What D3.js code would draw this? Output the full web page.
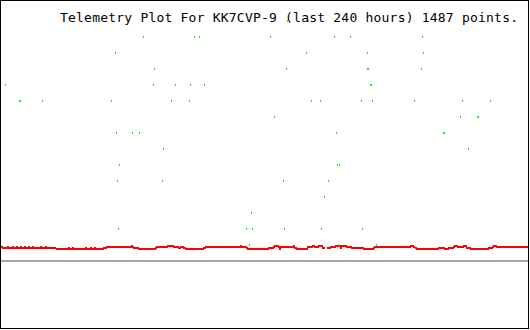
<!doctype html>
<html>

<head>
	<title> Telemetry Plot </title>
	<meta charset="UTF-8">
	<script src="https://d3js.org/d3.v7.min.js"></script>
	<style>
		body { margin: 0; background: #ffffff; }
		svg { display: block; }
	</style>
</head>

<body>
	<script>

		// Title text
		var callsign = "KK7CVP-9";
		var hoursShown = 240;
		var pointCount = 1487;

		// Green readings, [hours from start of window, value]
		var greenPoints = [
			[73.2, 240], [130.5, 240], [140.0, 240], [155.9, 240],
			[65.0, 224], [88.2, 224], [90.5, 224], [122.7, 224], [151.8, 224], [159.1, 224], [191.8, 224],
			[52.3, 208], [139.1, 208], [166.8, 208], [192.3, 208],
			[70.0, 192], [130.0, 192], [166.8, 192], [167.3, 192], [191.4, 192],
			[2.3, 176], [69.5, 176], [79.5, 176], [86.4, 176], [92.7, 176], [168.2, 176], [168.6, 176],
			[8.6, 160], [9.1, 160], [19.1, 160], [50.5, 160], [77.7, 160], [85.9, 160], [141.4, 160],
			[145.5, 160], [164.1, 160], [169.1, 160], [188.2, 160], [210.0, 160], [222.7, 160],
			[124.5, 144], [209.1, 144], [216.8, 144], [217.3, 144],
			[52.7, 128], [60.0, 128], [63.2, 128], [152.7, 128], [201.4, 128], [201.8, 128],
			[74.1, 112], [212.7, 112],
			[54.1, 96], [153.2, 96], [154.1, 96],
			[53.2, 80], [73.6, 80], [128.6, 80], [149.1, 80],
			[147.3, 64],
			[114.1, 48],
			[53.6, 32], [111.8, 32], [114.5, 32], [129.1, 32], [145.9, 32], [164.5, 32],
			[113.2, 16], [153.6, 16], [170.9, 16]
		];

		// Red readings, [hours, value]; null value = no data
		var redPoints = [
			[0.5, 14], [0.9, 14], [1.4, 13],
			[3.2, 13], [3.6, 14], [4.1, 13],
			[5.5, 13], [5.9, 14], [6.4, 13],
			[7.3, 13], [7.7, 14], [8.2, 13],
			[9.1, 13], [9.5, 14], [10.0, 13],
			[10.9, 13], [11.4, 14], [11.8, 13],
			[12.7, 13], [13.2, 14], [13.6, 13],
			[14.5, 13], [15.0, 14], [15.5, 13],
			[18.2, 13], [18.6, 14], [19.1, 13],
			[20.5, 13], [20.9, 14], [21.4, 13],
			[25.0, 13], [25.9, 12],
			[30.9, 12], [31.4, 13], [31.8, 12],
			[32.7, 12], [33.2, 13], [33.6, 12],
			[38.6, 12], [39.1, 13], [39.5, 12],
			[40.9, 12], [41.4, 13], [41.8, 12],
			[42.7, 12], [43.2, 13], [43.6, 12],
			[46.8, 12], [47.3, 13], [48.2, 13], [48.6, 14],
			[59.5, 14], [60.0, 15], [60.5, 14], [60.9, 13], [62.7, 13], [63.2, 12],
			[70.5, 12], [70.9, 13], [71.4, 14],
			[75.9, 14], [76.4, 15], [78.6, 15], [79.1, 14], [80.9, 14], [81.4, 13], [81.8, 13],
			[82.3, 14], [83.2, 14], [83.6, 13], [84.1, 13], [84.5, 12],
			[92.3, 12], [92.7, 13], [93.2, 13], [93.6, 14],
			[109.1, 14], [109.5, 15], [110.0, 14],
			[111.8, 14], [112.3, 13], [112.7, 12],
			[121.8, 12], [122.3, 13], [124.1, 13], [124.5, 14], [125.0, 15], [126.4, 15],
			[126.8, 14], [127.3, 12], [127.7, 14],
			[133.2, 14], [133.6, 15], [134.1, 13], [134.5, 13], [135.0, 12],
			[139.5, 12], [140.0, 14], [141.8, 14], [142.3, 15], [142.7, 15], [143.2, 14],
			[144.5, 14], [145.0, 15], [146.4, 15], [146.8, 13], [147.7, 13],
			[148.2, null],
			[148.6, 13], [150.0, 13], [150.5, 14], [152.3, 14], [152.7, 15], [154.5, 15],
			[155.0, 13], [155.5, 15], [157.3, 15], [157.7, 14], [159.5, 14], [160.0, 13],
			[165.0, 13], [165.5, 12],
			[169.5, 12], [170.0, 13], [170.5, 14],
			[186.4, 14], [186.8, 15], [187.7, 15], [188.2, 14], [189.1, 13], [189.5, 12],
			[199.1, 12], [199.5, 13], [201.8, 13], [202.3, 12], [203.6, 12], [204.1, 13],
			[205.9, 13], [206.4, 14], [206.8, 15], [207.7, 15], [208.2, 14],
			[210.5, 14], [210.9, 15], [211.8, 15], [212.3, 13], [213.6, 13], [214.1, 12],
			[221.8, 12], [222.3, 13], [223.6, 13], [224.1, 14], [224.5, 15], [225.5, 15],
			[225.9, 14], [240.0, 14]
		];

		// Gray reference level
		var baseValue = 0;

		var width = 530,
			height = 330;

		var svg = d3.select("body")
			.append("svg")
				.attr("width", width)
				.attr("height", height);

		// Scales: x is hours across the window, y is shared by both series
		var x = d3.scaleLinear().domain([0, hoursShown]).range([0, 528]);
		var y = d3.scaleLinear().domain([0, 240]).range([261, 21]);

		// Background and frame
		svg.append("rect")
			.attr("x", 0.5)
			.attr("y", 0.5)
			.attr("width", width - 2)
			.attr("height", height - 2)
			.attr("fill", "#ffffff")
			.attr("stroke", "#000000")
			.attr("stroke-width", 1);

		// Gray base line
		svg.append("line")
			.attr("x1", 1)
			.attr("x2", 528)
			.attr("y1", y(baseValue))
			.attr("y2", y(baseValue))
			.attr("stroke", "#a8a8a8")
			.attr("stroke-width", 2)
			.style("shape-rendering", "crispEdges");

		// Red line
		var redLine = d3.line()
			.defined(function(d) { return d[1] !== null; })
			.x(function(d) { return x(d[0]); })
			.y(function(d) { return y(d[1]); });

		svg.append("path")
			.datum(redPoints)
			.attr("d", redLine)
			.attr("fill", "none")
			.attr("stroke", "#ff0000")
			.attr("stroke-width", 2)
			.style("shape-rendering", "crispEdges");

		// Green dots
		svg.selectAll(".dot")
			.data(greenPoints)
			.enter()
			.append("rect")
				.attr("class", "dot")
				.attr("x", function(d) { return Math.round(x(d[0])); })
				.attr("y", function(d) { return Math.round(y(d[1])) - 1; })
				.attr("width", 1)
				.attr("height", 2)
				.attr("fill", "#00ff00")
				.style("shape-rendering", "crispEdges");

		// Title
		svg.append("text")
			.attr("x", 60)
			.attr("y", 22)
			.attr("textLength", 458)
			.attr("lengthAdjust", "spacing")
			.style("font-family", "DejaVu Sans Mono, monospace")
			.style("font-size", "13px")
			.attr("fill", "#000000")
			.text("Telemetry Plot For " + callsign + " (last " + hoursShown + " hours) " + pointCount + " points.");

	</script>
</body>
</html>
